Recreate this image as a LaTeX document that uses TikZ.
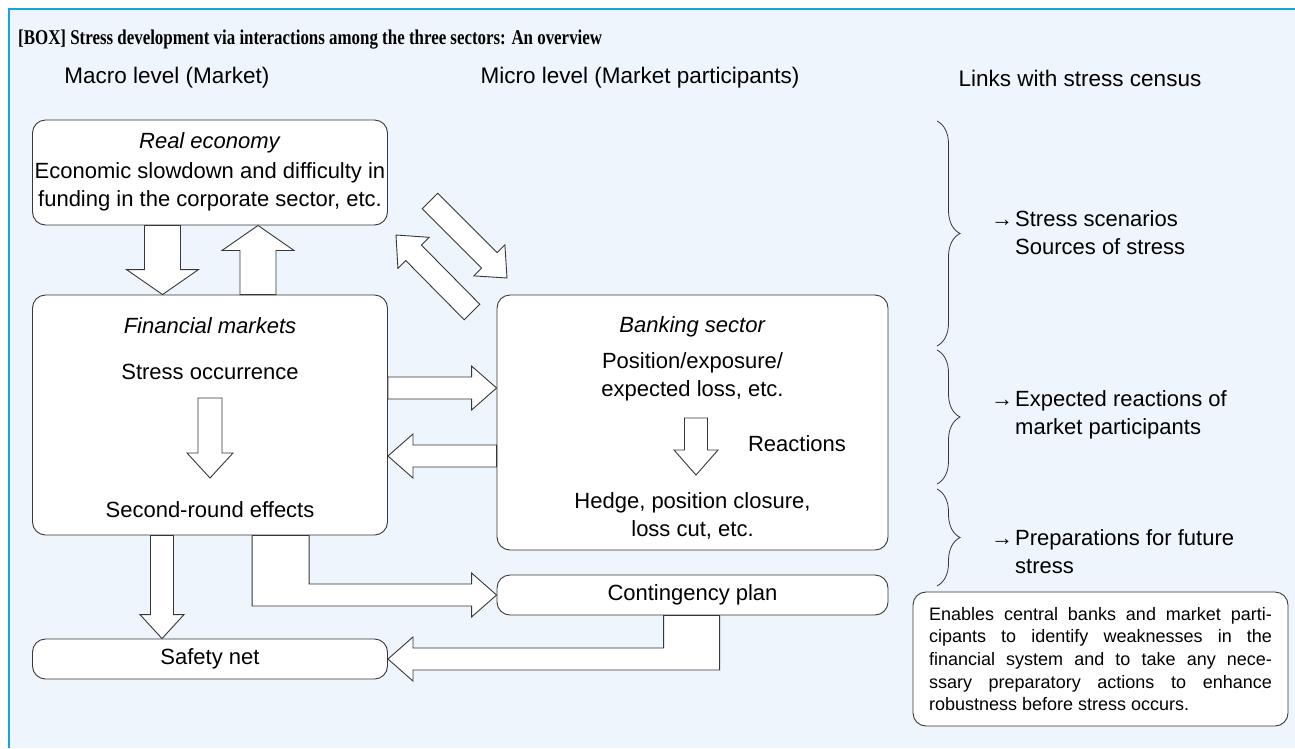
\documentclass[tikz,border=0pt]{standalone}
\usepackage{fontspec}
\setmainfont{Liberation Sans}
\newfontfamily\titlefont{Liberation Serif}
\usetikzlibrary{calc, decorations.pathreplacing}
\definecolor{framecyan}{RGB}{20,165,225}
\definecolor{paneblue}{RGB}{238,245,252}
\definecolor{linegray}{RGB}{55,55,55}
\newcommand{\bodyfont}{\fontsize{22}{28}\selectfont}
\newcommand{\notefont}{\fontsize{18}{22.7}\selectfont}
\tikzset{
  arrshaft/.store in=\arrshaft, arrhead/.store in=\arrhead, arrtip/.store in=\arrtip,
  arrshaft=11pt, arrhead=22pt, arrtip=25pt,
  panel/.style={rectangle, draw=linegray, fill=white, rounded corners=13pt, line width=0.9pt, font=\bodyfont},
  txt/.style={font=\bodyfont, inner sep=0pt, align=center},
  hdr/.style={font=\fontsize{22.5}{27}\selectfont, inner sep=0pt},
  fatline/.style={draw=linegray, fill=white, line width=0.9pt, line join=miter},
  fat/.style={fatline, to path={
      let \p1=($(\tikztotarget)!\arrtip!(\tikztostart)$) in
      ($(\tikztostart)!\arrshaft!90:(\tikztotarget)$) --
      ($(\p1)!\arrshaft!90:(\tikztotarget)$) --
      ($(\p1)!\arrhead!90:(\tikztotarget)$) --
      (\tikztotarget) --
      ($(\p1)!\arrhead!-90:(\tikztotarget)$) --
      ($(\p1)!\arrshaft!-90:(\tikztotarget)$) --
      ($(\tikztostart)!\arrshaft!-90:(\tikztotarget)$) -- cycle}},
  wide/.style={arrshaft=18pt, arrhead=36pt},
  censusbrace/.style={decorate, decoration={brace, amplitude=23pt}, draw=linegray, line width=0.8pt}
}

\begin{document}
\begin{tikzpicture}[x=1pt, y=-1pt]
  \useasboundingbox (0,0) rectangle (1295,748);
  % frame
  \fill[paneblue] (9,9) rectangle (1295,748);
  \draw[framecyan, line width=2.5pt] (9,748) -- (9,9) -- (1295,9);

  \node[anchor=west, inner sep=0pt, font=\titlefont\bfseries\fontsize{21}{23}\selectfont] (title) at (18,40)
    {\scalebox{0.805}[1]{[BOX] Stress development via interactions among the three sectors: An overview}};

  % column heads
  \node[hdr] (hdmacro) at (167,78) {Macro level (Market)};
  \node[hdr] (hdmicro) at (640,78) {Micro level (Market participants)};
  \node[hdr] (hdlinks) at (1080,78) {Links with stress census};

  % boxes
  \node[panel, minimum width=355pt, minimum height=105pt] (real) at (210,172.5) {};
  \node[panel, minimum width=355pt, minimum height=240pt] (fin) at (210,415) {};
  \node[panel, minimum width=391pt, minimum height=255pt] (bank) at (692.5,422.5) {};
  \node[panel, minimum width=391pt, minimum height=40pt] (cont) at (692.5,595) {Contingency plan};
  \node[panel, minimum width=355pt, minimum height=40pt] (safety) at (210,659) {Safety net};
  \node[panel, minimum width=375pt, minimum height=134pt] (note) at (1100.5,659) {};

  \node[txt] (realhd) at (210,143) {\textit{Real economy}};
  \node[txt] (realtx) at (210,187) {Economic slowdown and difficulty in\\funding in the corporate sector, etc.};
  \node[txt] (finhd) at (210,326) {\textit{Financial markets}};
  \node[txt] (occur) at (210,372) {Stress occurrence};
  \node[txt] (second) at (210,510) {Second-round effects};
  \node[txt] (bankhd) at (692.5,327) {\textit{Banking sector}};
  \node[txt] (posn) at (692.5,377) {Position/exposure/\\expected loss, etc.};
  \node[txt] (react) at (797,444) {Reactions};
  \node[txt] (hedge) at (692.5,516) {Hedge, position closure,\\loss cut, etc.};

  % block arrows
  \draw[fat, wide] ([xshift=-47.5pt]real.south) to ([xshift=-47.5pt]fin.north);
  \draw[fat, wide] ([xshift=48pt]fin.north) to ([xshift=48pt]real.south);
  \draw[fat, arrshaft=12pt, arrhead=23pt] ([yshift=-26pt]occur.center) to ([yshift=32pt]second.center);
  \draw[fat, arrshaft=11.5pt] ([xshift=3.5pt, yshift=-41pt]posn.center) to ([xshift=3.5pt, yshift=41pt]hedge.center);
  \draw[fat] ([yshift=27pt]fin.east) to ([yshift=27pt]fin.east -| bank.west);
  \draw[fat] ([yshift=-41pt]fin.east -| bank.west) to ([yshift=-41pt]fin.east);
  \draw[fat, arrshaft=11.5pt, arrtip=24pt] ([xshift=-48pt]fin.south) to ([xshift=-48pt]safety.north);

  \coordinate (dga) at (430,201);
  \coordinate (dgb) at (507,278);
  \coordinate (dgc) at (472,312);
  \coordinate (dgd) at (396,235);
  \draw[fat] (dga) to (dgb);
  \draw[fat] (dgc) to (dgd);

  \draw[fatline] ([xshift=220pt]fin.south west) |- ($(cont.west)+(-25,11)$) -- ($(cont.west)+(-25,22)$)
    -- (cont.west) -- ($(cont.west)+(-25,-22)$) -- ($(cont.west)+(-25,-11)$) -| ([xshift=277pt]fin.south west) -- cycle;
  \draw[fatline] ([xshift=223pt]cont.south west) |- ($(safety.east)+(25,11)$) -- ($(safety.east)+(25,22)$)
    -- (safety.east) -- ($(safety.east)+(25,-22)$) -- ($(safety.east)+(25,-11)$) -| ([xshift=167pt]cont.south west) -- cycle;

  % links with stress census
  \draw[censusbrace] (937,121) -- (937,346);
  \draw[censusbrace] (937,350) -- (937,484);
  \draw[censusbrace] (937,489) -- (937,586);
  \node[txt, anchor=west, align=left] (lk1) at (1015,233) {\llap{→\hspace{2pt}}Stress scenarios\\Sources of stress};
  \node[txt, anchor=west, align=left] (lk2) at (1015,415) {\llap{→\hspace{2pt}}Expected reactions of\\market participants};
  \node[txt, anchor=west, align=left] (lk3) at (1015,552) {\llap{→\hspace{2pt}}Preparations for future\\stress};

  \node[inner sep=0pt, text width=343pt, align=justify, font=\notefont] (notetx) at (note.center)
    {\tolerance=10000\hbadness=10000 Enables central banks and market parti-\linebreak
     cipants to identify weaknesses in the\linebreak
     financial system and to take any nece-\linebreak
     ssary preparatory actions to enhance\linebreak
     robustness before stress occurs.};
\end{tikzpicture}
\end{document}
